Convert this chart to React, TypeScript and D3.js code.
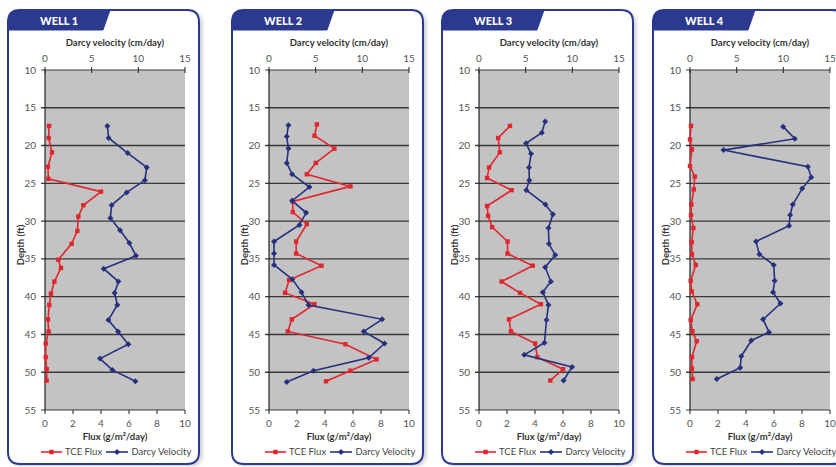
import React from "react";
import * as d3 from "d3";

const wellNames = ["WELL 1", "WELL 2", "WELL 3", "WELL 4"];

// Well 1
const w1FluxDepth = [17.4, 19.0, 20.9, 22.8, 24.4, 26.1, 27.9, 29.4, 31.3, 33.0, 35.1, 36.2, 38.0, 39.6, 41.1, 43.0, 44.6, 46.2, 48.0, 49.6, 51.1];
const w1Flux = [0.29, 0.26, 0.5, 0.21, 0.24, 4.0, 2.74, 2.38, 2.31, 1.9, 0.95, 1.14, 0.67, 0.43, 0.31, 0.21, 0.26, 0.05, 0.05, 0.12, 0.12];
const w1DarcyDepth = [17.4, 19.0, 21.0, 22.9, 24.6, 26.2, 27.9, 29.6, 31.2, 32.9, 34.6, 36.3, 38.0, 39.5, 41.1, 43.1, 44.6, 46.3, 48.2, 49.7, 51.2];
const w1Darcy = [6.68, 6.82, 8.86, 10.9, 10.7, 8.75, 7.14, 7.0, 8.04, 9.04, 9.75, 6.29, 7.86, 7.46, 7.75, 6.79, 7.82, 8.93, 5.89, 7.21, 9.68];

// Well 2
const w2FluxDepth = [17.2, 18.7, 20.4, 22.3, 23.8, 25.4, 27.4, 28.8, 30.4, 32.7, 34.3, 35.9, 37.8, 39.5, 41.0, 43.0, 44.6, 46.3, 48.3, 49.8, 51.2];
const w2Flux = [3.42, 3.25, 4.67, 3.35, 2.7, 5.81, 1.7, 1.7, 2.7, 1.94, 1.94, 3.75, 1.44, 1.15, 3.25, 1.63, 1.34, 5.46, 7.68, 5.81, 4.07];
const w2DarcyDepth = [17.3, 18.8, 20.4, 22.3, 23.8, 25.5, 27.3, 28.9, 30.5, 32.7, 34.3, 35.8, 37.7, 39.4, 41.1, 43.0, 44.6, 46.2, 48.1, 49.8, 51.3];
const w2Darcy = [2.08, 1.9, 2.08, 1.9, 2.48, 4.34, 2.48, 3.98, 3.26, 0.54, 0.54, 0.54, 2.5, 3.48, 4.23, 12.13, 10.15, 12.38, 10.69, 4.77, 1.9];

// Well 3
const w3FluxDepth = [17.4, 19.0, 20.9, 22.9, 24.3, 25.9, 28.0, 29.3, 30.8, 32.7, 34.3, 35.9, 38.0, 39.5, 41.0, 43.0, 44.6, 46.2, 48.0, 49.6, 51.1];
const w3Flux = [2.21, 1.37, 1.49, 0.72, 0.58, 2.33, 0.58, 0.65, 0.94, 2.04, 2.04, 3.84, 1.61, 2.93, 4.42, 2.14, 2.28, 4.01, 4.17, 6.0, 5.09];
const w3DarcyDepth = [16.8, 18.3, 19.7, 21.1, 22.9, 24.6, 25.9, 27.8, 29.1, 30.9, 33.0, 34.5, 36.1, 38.0, 39.4, 41.1, 43.1, 46.1, 47.7, 49.3, 51.1];
const w3Darcy = [7.09, 6.73, 5.04, 5.58, 5.36, 5.39, 5.07, 7.12, 7.92, 7.44, 7.49, 8.17, 7.09, 7.7, 6.84, 7.44, 7.23, 7.01, 4.85, 9.97, 9.06];

// Well 4
const w4FluxDepth = [17.4, 19.2, 20.5, 22.7, 24.1, 25.8, 27.8, 29.2, 30.9, 32.8, 34.4, 35.8, 37.9, 39.3, 41.0, 43.1, 44.6, 45.9, 48.0, 49.5, 50.9];
const w4Flux = [0.07, 0.0, 0.14, 0.0, 0.34, 0.27, 0.1, 0.07, 0.24, 0.12, 0.14, 0.41, 0.05, 0.12, 0.52, 0.05, 0.17, 0.48, 0.14, 0.14, 0.19];
const w4DarcyDepth = [17.5, 19.1, 20.6, 22.8, 24.2, 25.7, 27.8, 29.2, 30.6, 32.7, 34.4, 35.8, 37.9, 39.4, 40.9, 43.0, 44.7, 45.8, 47.9, 49.4, 50.9];
const w4Darcy = [9.98, 11.23, 3.59, 12.63, 12.99, 12.02, 11.01, 10.73, 10.62, 7.07, 7.43, 8.97, 9.07, 8.9, 9.69, 7.83, 8.47, 6.57, 5.49, 5.38, 2.87];

const depthTicks = [10, 15, 20, 25, 30, 35, 40, 45, 50, 55];
const fluxTicks = [0, 2, 4, 6, 8, 10];
const darcyTicks = [0, 5, 10, 15];

const wells = [
  { fd: w1FluxDepth, f: w1Flux, dd: w1DarcyDepth, d: w1Darcy },
  { fd: w2FluxDepth, f: w2Flux, dd: w2DarcyDepth, d: w2Darcy },
  { fd: w3FluxDepth, f: w3Flux, dd: w3DarcyDepth, d: w3Darcy },
  { fd: w4FluxDepth, f: w4Flux, dd: w4DarcyDepth, d: w4Darcy },
];

const plotLefts = [45, 269, 479, 690];
const PW = 140;
const NAVY = "#2b3a8f";
const RED = "#e2252c";
const BLUE = "#25317f";
const FONT = "Lato, 'DejaVu Sans', sans-serif";

const y = d3.scaleLinear().domain([10, 55]).range([70, 410]);

function Panel({ idx }: { idx: number }) {
  const pl = plotLefts[idx];
  const fx = pl - 37;
  const fw = 191;
  const fTop = 10;
  const fBot = 464;
  const r = 12;
  const xf = d3.scaleLinear().domain([0, 10]).range([pl, pl + PW]);
  const xd = d3.scaleLinear().domain([0, 15]).range([pl, pl + PW]);
  const w = wells[idx];
  const fluxPts = w.f.map((v, i) => [xf(v), y(w.fd[i])] as [number, number]);
  const darcyPts = w.d.map((v, i) => [xd(v), y(w.dd[i])] as [number, number]);
  const line = d3.line();
  const framePath = `M${fx},${fTop + r} Q${fx},${fTop} ${fx + r},${fTop} L${fx + fw - r},${fTop} Q${fx + fw},${fTop} ${fx + fw},${fTop + r} L${fx + fw},${fBot - r} Q${fx + fw},${fBot} ${fx + fw - r},${fBot} L${fx + r},${fBot} Q${fx},${fBot} ${fx},${fBot - r} Z`;
  const tabPath = `M${fx},${fTop + r} Q${fx},${fTop} ${fx + r},${fTop} L${fx + 102},${fTop} L${fx + 95},30 L${fx},30 Z`;
  const sq = (p: [number, number], k: number) => (
    <rect key={k} x={p[0] - 2.2} y={p[1] - 2.2} width={4.4} height={4.4} fill={RED} />
  );
  const dm = (p: [number, number], k: number) => (
    <path key={k} d={`M${p[0]},${p[1] - 3} L${p[0] + 3},${p[1]} L${p[0]},${p[1] + 3} L${p[0] - 3},${p[1]} Z`} fill={BLUE} />
  );
  const legY = 452;
  return (
    <g>
      <path d={framePath} transform="translate(3,2)" fill="#c8c8c8" filter="url(#blur)" />
      <path d={framePath} fill="#fff" stroke={NAVY} strokeWidth={2} />
      <path d={tabPath} fill={NAVY} stroke={NAVY} strokeWidth={1} />
      <text x={fx + 32} y={24.5} fill="#fff" fontFamily={FONT} fontWeight={900} fontSize={11}>
        {wellNames[idx]}
      </text>
      {/* plot background */}
      <rect x={pl} y={y(10)} width={PW} height={y(55) - y(10)} fill="#c3c3c3" />
      {/* gridlines */}
      {depthTicks.map((t) => (
        <line key={t} x1={pl - 4} x2={pl + PW} y1={y(t)} y2={y(t)} stroke="#3a3a3a" strokeWidth={t === 10 || t === 55 ? 1.2 : 1.4} />
      ))}
      <line x1={pl} x2={pl} y1={y(10)} y2={y(55)} stroke="#222" strokeWidth={1.2} />
      {depthTicks.map((t) => (
        <text key={t} x={pl - 9} y={y(t) + 3.5} textAnchor="end" fontFamily={FONT} fontSize={10} fill="#555">
          {t}
        </text>
      ))}
      {/* top axis */}
      {darcyTicks.map((t) => (
        <g key={t}>
          <line x1={xd(t)} x2={xd(t)} y1={y(10) - 3} y2={y(10) + 3} stroke="#222" strokeWidth={1} />
          <text x={xd(t)} y={61.5} textAnchor="middle" fontFamily={FONT} fontSize={10} fill="#555">
            {t}
          </text>
        </g>
      ))}
      <text x={pl + PW / 2} y={46} textAnchor="middle" fontFamily={FONT} fontWeight={700} fontSize={9.5} fill="#333">
        Darcy velocity (cm/day)
      </text>
      {/* bottom axis */}
      {fluxTicks.map((t) => (
        <g key={t}>
          <line x1={xf(t)} x2={xf(t)} y1={y(55)} y2={y(55) + 4} stroke="#222" strokeWidth={1} />
          <text x={xf(t)} y={426.5} textAnchor="middle" fontFamily={FONT} fontSize={10} fill="#555">
            {t}
          </text>
        </g>
      ))}
      <text x={pl + PW / 2} y={439.5} textAnchor="middle" fontFamily={FONT} fontWeight={700} fontSize={9.5} fill="#333">
        Flux (g/m²/day)
      </text>
      <text
        transform={`translate(${pl - 21},245) rotate(-90)`}
        textAnchor="middle"
        fontFamily={FONT}
        fontWeight={700}
        fontSize={9.5}
        fill="#333"
      >
        Depth (ft)
      </text>
      {/* series */}
      <path d={line(fluxPts) || ""} fill="none" stroke={RED} strokeWidth={1.6} />
      {fluxPts.map((p, i) => sq(p, i))}
      <path d={line(darcyPts) || ""} fill="none" stroke={BLUE} strokeWidth={1.6} />
      {darcyPts.map((p, i) => dm(p, i))}
      {/* legend */}
      <line x1={pl - 4} x2={pl + 17} y1={legY} y2={legY} stroke={RED} strokeWidth={1.6} />
      {sq([pl + 6.5, legY], 0)}
      <text x={pl + 20} y={legY + 3.3} fontFamily={FONT} fontSize={9.5} fill="#444">
        TCE Flux
      </text>
      <line x1={pl + 61} x2={pl + 83} y1={legY} y2={legY} stroke={BLUE} strokeWidth={1.6} />
      {dm([pl + 72, legY], 0)}
      <text x={pl + 86.5} y={legY + 3.3} fontFamily={FONT} fontSize={9.5} fill="#444">
        Darcy Velocity
      </text>
    </g>
  );
}

export default function App() {
  return (
    <svg width={836} height={467} style={{ position: "absolute", left: 0, top: 0, background: "#fff" }}>
      <defs>
        <filter id="blur" x="-10%" y="-10%" width="120%" height="120%">
          <feGaussianBlur stdDeviation="2" />
        </filter>
      </defs>
      <rect width={836} height={467} fill="#fff" />
      {wellNames.map((_, i) => (
        <Panel key={i} idx={i} />
      ))}
    </svg>
  );
}
